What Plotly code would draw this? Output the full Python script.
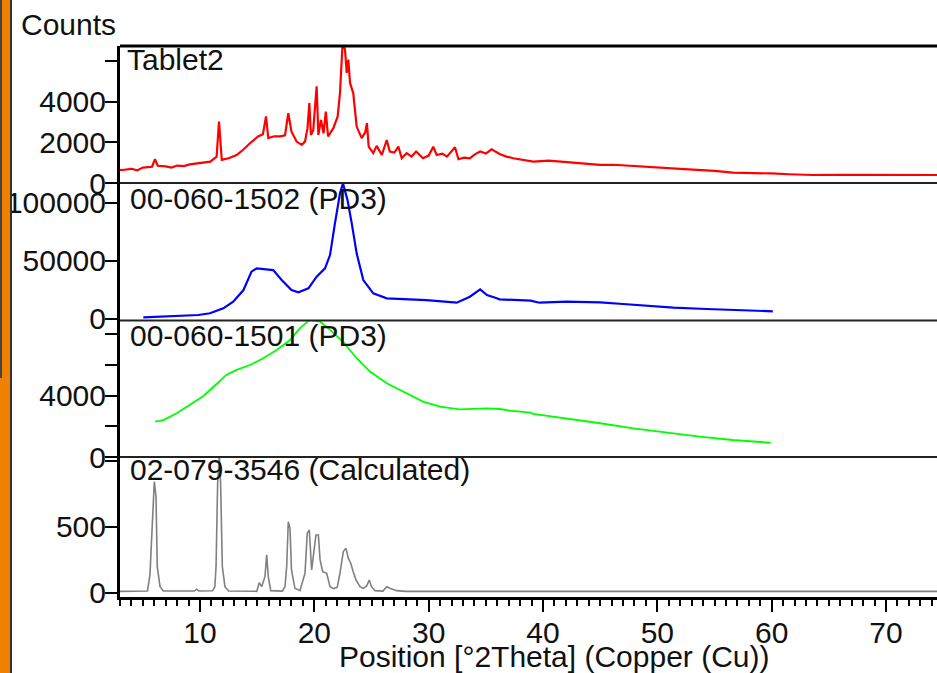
import plotly.graph_objects as go

# ---------------- data ----------------
tablet2_points = [
    (3.0, 650), (3.2, 640), (4.0, 700), (4.5, 620), (5.0, 760), (5.8, 800), (6.06, 1170),
    (6.3, 850), (7.0, 820), (7.5, 760), (8.0, 860), (8.6, 830), (9.1, 920), (10.0, 980),
    (10.9, 1050), (11.45, 1300), (11.66, 3030), (11.9, 1140), (12.5, 1220), (13.2, 1380),
    (13.8, 1650), (14.37, 1960), (15.07, 2290), (15.5, 2400), (15.77, 3280), (15.97, 2210),
    (16.5, 2300), (17.0, 2300), (17.43, 2350), (17.72, 3440), (18.0, 2530), (18.45, 2040),
    (18.9, 1880), (19.18, 2040), (19.4, 2700), (19.56, 3940), (19.7, 2370), (19.9, 2600),
    (20.06, 3600), (20.2, 4760), (20.35, 2370), (20.58, 3110), (20.8, 2450), (21.0, 3520),
    (21.2, 2290), (21.66, 2700), (22.04, 3280), (22.24, 4430), (22.48, 7000), (22.68, 6570),
    (22.83, 5420), (22.97, 6080), (23.12, 4930), (23.4, 4430), (23.7, 2780), (24.14, 2210),
    (24.45, 2500), (24.6, 2950), (24.75, 1790), (25.15, 1470), (25.45, 1830), (25.9, 1380),
    (26.33, 2120), (26.6, 1550), (27.0, 1500), (27.35, 1790), (27.64, 1220), (28.07, 1470),
    (28.5, 1300), (28.9, 1550), (29.5, 1220), (30.0, 1350), (30.4, 1790), (30.7, 1380),
    (31.2, 1450), (31.6, 1300), (32.3, 1760), (32.6, 1170), (33.1, 1250), (33.6, 1220),
    (34.0, 1400), (34.5, 1550), (35.0, 1450), (35.5, 1660), (36.2, 1430), (36.8, 1300),
    (37.4, 1220), (38.2, 1150), (39.15, 1050), (40.5, 1100), (42.07, 1020), (43.5, 960),
    (45.0, 890), (46.2, 900), (47.5, 850), (49.0, 780), (50.8, 725), (52.0, 700),
    (53.5, 650), (55.0, 600), (56.6, 510), (58.0, 500), (60.0, 470), (61.5, 430),
    (63.6, 395), (66.0, 400), (68.0, 395), (71.0, 400), (74.5, 395),
]

pd1502_points = [
    (5.04, 1460), (7.2, 2320), (9.85, 3440), (10.87, 4900), (12.04, 9200), (12.9, 14900),
    (13.8, 24900), (14.5, 40700), (14.96, 43600), (16.4, 42100), (17.14, 33500),
    (18.0, 24900), (18.6, 22900), (19.48, 26400), (20.2, 36400), (20.93, 43600),
    (21.37, 55000), (21.8, 82300), (22.24, 108000), (22.5, 116700), (22.9, 102300),
    (23.27, 82300), (23.7, 56500), (24.28, 33500), (25.15, 22100), (26.33, 17800),
    (29.8, 16300), (32.45, 14000), (33.6, 19200), (34.5, 25500), (35.1, 20600),
    (35.95, 17800), (36.2, 16900), (38.9, 15800), (39.7, 14000), (42.07, 14900),
    (45.0, 14300), (47.0, 12900), (49.07, 11200), (51.4, 9700), (54.3, 8600),
    (56.6, 7700), (60.1, 6600),
]

pd1501_points = [
    (6.06, 2300), (6.8, 2410), (7.96, 2850), (9.12, 3390), (10.3, 3980), (11.45, 4760),
    (12.3, 5350), (13.2, 5680), (14.37, 6000), (15.53, 6440), (16.7, 6980), (17.87, 7630),
    (18.74, 8400), (19.6, 8940), (20.5, 8830), (21.37, 8290), (22.5, 7520), (23.7, 6440),
    (24.87, 5570), (26.33, 4810), (27.8, 4260), (29.5, 3610), (31.0, 3280), (32.7, 3110),
    (35.1, 3170), (36.2, 3130), (37.1, 3020), (38.9, 2890), (39.15, 2810), (42.07, 2520),
    (45.0, 2200), (47.9, 1870), (50.8, 1590), (53.7, 1330), (56.6, 1110), (59.9, 930),
]

calc3546_points = [
    (3.0, 10), (5.4, 12), (5.62, 134), (5.86, 614), (6.0, 841), (6.15, 727), (6.26, 197),
    (6.5, 45), (6.8, 12), (9.5, 12), (9.7, 26), (9.9, 12), (11.1, 14), (11.3, 45),
    (11.4, 197), (11.54, 829), (11.69, 1043), (11.8, 829), (11.95, 197), (12.18, 45),
    (12.5, 12), (14.96, 10), (15.18, 76), (15.39, 45), (15.68, 121), (15.83, 286),
    (15.97, 121), (16.18, 15), (17.2, 12), (17.43, 45), (17.58, 197), (17.72, 538),
    (17.87, 488), (18.0, 172), (18.3, 33), (18.74, 15), (19.18, 147), (19.38, 450),
    (19.56, 475), (19.76, 172), (19.97, 298), (20.14, 437), (20.35, 437), (20.5, 248),
    (20.73, 159), (21.08, 147), (21.37, 45), (21.66, 30), (22.0, 40), (22.24, 147),
    (22.53, 311), (22.77, 336), (22.97, 261), (23.18, 223), (23.4, 159), (23.64, 96),
    (23.99, 45), (24.28, 33), (24.58, 51), (24.8, 96), (25.0, 45), (25.3, 15),
    (26.0, 12), (26.33, 45), (26.6, 33), (27.2, 15), (28.0, 10), (74.5, 10),
]

panel_titles = ["Tablet2", "00-060-1502 (PD3)", "00-060-1501 (PD3)", "02-079-3546 (Calculated)"]
x_tick_vals = [10, 20, 30, 40, 50, 60, 70]
y1_ticks = [0, 2000, 4000, 6000]
y1_text = ["0", "2000", "4000", ""]
y2_ticks = [0, 50000, 100000]
y2_text = ["0", "50000", "100000"]
y3_ticks = [0, 2000, 4000, 6000, 8000]
y3_text = ["0", "", "4000", "", ""]
y4_ticks = [0, 500, 1000]
y4_text = ["0", "500", ""]

# ---------------- figure ----------------
FONT = "Liberation Sans, Arial, sans-serif"
FS = 30

fig = go.Figure()
series = [
    (tablet2_points, "#ff0000", "y", 2.2),
    (pd1502_points, "#0000ff", "y2", 2.2),
    (pd1501_points, "#00ff00", "y3", 1.8),
    (calc3546_points, "#808080", "y4", 1.6),
]
for pts, col, yax, w in series:
    fig.add_trace(go.Scatter(x=[p[0] for p in pts], y=[p[1] for p in pts],
                             mode="lines", xaxis="x", yaxis=yax,
                             line=dict(color=col, width=w), hoverinfo="skip"))

PW = 817.0   # plot width px
PH = 551.0   # plot height px
B1, B2, B3 = (597 - 183) / PH, (597 - 320.5) / PH, (597 - 457) / PH


def px_x(p):
    return (p - 120) / PW


def px_y(p):
    return (597 - p) / PH


tickfont = dict(family=FONT, size=FS, color="#111")
yaxis_common = dict(anchor="x", showline=True, linecolor="black", linewidth=3,
                    ticks="outside", ticklen=12, tickwidth=2, tickcolor="black",
                    showgrid=False, zeroline=False, tickfont=tickfont,
                    ticklabelstandoff=-7)

fig.update_layout(
    width=937, height=673,
    margin=dict(l=120, r=0, t=46, b=76, pad=0),
    plot_bgcolor="white", paper_bgcolor="white",
    showlegend=False,
    font=dict(family=FONT, size=FS, color="#111"),
    xaxis=dict(domain=[0, 1], range=[3.0, 74.46], anchor="y4",
               showline=True, linecolor="black", linewidth=3,
               ticks="outside", ticklen=12, tickwidth=2, tickcolor="black",
               tickvals=x_tick_vals, showgrid=False, zeroline=False,
               tickfont=tickfont, ticklabelstandoff=-5,
               minor=dict(dtick=1, tick0=0, ticks="outside", ticklen=6,
                          tickwidth=1.5, tickcolor="black", showgrid=False)),
    yaxis=dict(domain=[B1, 1], range=[0, 6750], tickvals=y1_ticks, ticktext=y1_text, **yaxis_common),
    yaxis2=dict(domain=[B2, B1], range=[-1300, 117000], tickvals=y2_ticks, ticktext=y2_text, **yaxis_common),
    yaxis3=dict(domain=[B3, B2], range=[0, 8900], tickvals=y3_ticks, ticktext=y3_text, **yaxis_common),
    yaxis4=dict(domain=[0, B3], range=[-33, 1028], tickvals=y4_ticks, ticktext=y4_text, **yaxis_common),
)

shapes = [dict(type="line", xref="paper", yref="paper", x0=0, x1=1.01, y0=1, y1=1,
               line=dict(color="black", width=3))]
for yb in (B1, B2, B3):
    shapes.append(dict(type="line", xref="paper", yref="paper", x0=0, x1=1.01, y0=yb, y1=yb,
                       line=dict(color="#222", width=2)))
# orange side bar at the far left of the window
shapes.append(dict(type="rect", xref="paper", yref="paper",
                   x0=px_x(0), x1=px_x(10), y0=px_y(690), y1=px_y(-20),
                   fillcolor="#f08000", line=dict(width=0), layer="above"))
shapes.append(dict(type="rect", xref="paper", yref="paper",
                   x0=px_x(10), x1=px_x(12), y0=px_y(690), y1=px_y(-20),
                   fillcolor="#333333", line=dict(width=0), layer="above"))
shapes.append(dict(type="rect", xref="paper", yref="paper",
                   x0=px_x(0), x1=px_x(2), y0=px_y(378), y1=px_y(-20),
                   fillcolor="#444444", line=dict(width=0), layer="above"))
fig.update_layout(shapes=shapes)

title_pos = [(125, 59), (128, 198), (128, 335), (128, 469)]
annotations = []
for t, (px, py) in zip(panel_titles, title_pos):
    annotations.append(dict(text=t, xref="paper", yref="paper", x=px_x(px), y=px_y(py),
                            xanchor="left", yanchor="middle", showarrow=False,
                            font=dict(family=FONT, size=FS, color="#111")))
annotations.append(dict(text="Counts", xref="paper", yref="paper", x=px_x(19), y=px_y(24),
                        xanchor="left", yanchor="middle", showarrow=False,
                        font=dict(family=FONT, size=FS, color="#111")))
annotations.append(dict(text="Position [°2Theta] (Copper (Cu))", xref="paper", yref="paper",
                        x=px_x(554.5), y=px_y(656),
                        xanchor="center", yanchor="middle", showarrow=False,
                        font=dict(family=FONT, size=FS, color="#111")))
fig.update_layout(annotations=annotations)

# remove the browser's default 8px page margin so the figure fills the window exactly
fig.write_html("out.html", config={"displayModeBar": False},
               post_script="document.body.style.margin='0px';")
